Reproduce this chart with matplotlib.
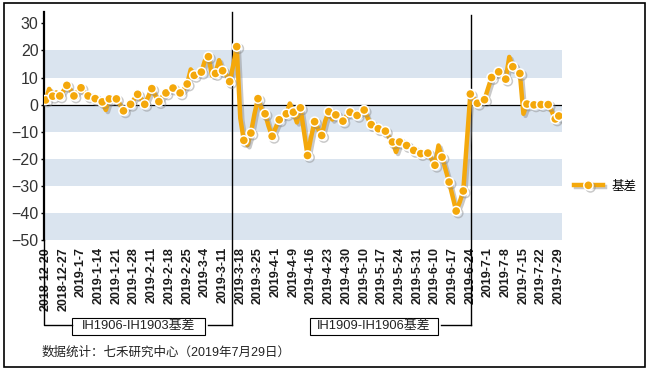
import matplotlib
matplotlib.use("Agg")
import matplotlib.pyplot as plt
import matplotlib.patheffects as pe
from matplotlib.patches import Rectangle

plt.rcParams['font.family'] = ['Liberation Sans', 'Noto Sans CJK SC']

# weekly tick labels (every 5 trading days)
tick_dates = ['2018-12-20', '2018-12-27', '2019-1-7', '2019-1-14', '2019-1-21', '2019-1-28',
              '2019-2-11', '2019-2-18', '2019-2-25', '2019-3-4', '2019-3-11', '2019-3-18',
              '2019-3-25', '2019-4-1', '2019-4-9', '2019-4-16', '2019-4-23', '2019-4-30',
              '2019-5-10', '2019-5-17', '2019-5-24', '2019-5-31', '2019-6-10', '2019-6-17',
              '2019-6-24', '2019-7-1', '2019-7-8', '2019-7-15', '2019-7-22', '2019-7-29']

# daily basis values
basis = [1.7, 5.8, 3.1, 4.5, 3.2, 5.0, 7.1, 5.5, 3.2, 4.8,
         6.2, 4.5, 3.2, 2.6, 2.2, 1.7, 1.0, -2.0, 2.1, 2.3,
         2.1, 0.0, -2.3, -1.0, 0.1, 2.0, 3.8, 2.0, 0.1, 3.0,
         5.9, 3.4, 1.1, 3.0, 4.3, 5.4, 6.1, 5.0, 4.3, 5.5,
         7.6, 13.0, 10.8, 11.2, 12.0, 16.2, 17.7, 10.7, 11.5, 16.4,
         12.5, 11.0, 8.5, 14.5, 21.4, -5.0, -13.2, -15.0, -10.5, -3.5,
         2.2, -1.5, -3.4, -8.0, -11.7, -8.5, -5.6, -4.5, -3.4, 0.4,
         -2.8, -6.6, -1.2, -10.0, -18.8, -12.0, -6.3, -9.0, -11.4, -6.0,
         -2.6, -5.5, -3.8, -4.8, -6.1, -4.2, -2.8, -3.5, -4.0, -3.0,
         -2.0, -5.0, -7.4, -8.2, -8.9, -9.4, -9.8, -12.0, -13.8, -17.5,
         -13.8, -14.5, -15.1, -16.0, -16.9, -17.5, -18.1, -18.0, -17.9, -20.0,
         -22.4, -15.1, -19.4, -24.0, -28.6, -34.0, -39.3, -36.0, -31.9, -14.0,
         3.9, 2.2, 0.5, 1.0, 1.8, 6.0, 10.0, 11.0, 12.1, 10.7,
         9.4, 17.6, 14.0, 12.8, 11.5, -3.4, 0.2, 0.0, -0.1, 0.0,
         0.0, 0.0, 0.0, -2.5, -5.3, -4.2]

y_ticks = [-50, -40, -30, -20, -10, 0, 10, 20, 30]
bands = [(-50, -40), (-30, -20), (-10, 0), (10, 20)]
contracts = ['IH1906-IH1903基差', 'IH1909-IH1906基差']
series_name = '基差'
source_note = '数据统计：七禾研究中心（2019年7月29日）'

# layout (data units on the x axis)
roll_x = [52.8, 120.2]
box_spans = [(7.4, 45.0), (74.7, 110.8)]

W, H = 649, 371
fig = plt.figure(figsize=(W / 100, H / 100), dpi=100)
ax = fig.add_axes([43.5 / W, 1 - 240 / H, (562 - 43.5) / W, (240 - 11.7) / H])

n = len(basis)
orange = '#F4A80B'
ax.plot(range(n), basis, color=orange, lw=3.2, marker='o', ms=6.6,
        mfc=orange, mec='white', mew=1.1, markevery=list(range(0, n, 2)) + [n - 1],
        label=series_name, solid_joinstyle='round',
        path_effects=[pe.SimpleLineShadow(offset=(1.5, -1.5), shadow_color='#888888', alpha=0.45),
                      pe.Normal()], zorder=3)

for lo, hi in bands:
    ax.axhspan(lo, hi, color='#DAE4EF', lw=0, zorder=0)
ax.axhline(0, color='black', lw=0.9, zorder=1)

ytop = 34.3
ax.set_xlim(-0.6, 145.9)
ax.set_ylim(-50, ytop)
ax.set_yticks(y_ticks)
ax.tick_params(axis='y', labelsize=11.5, labelcolor='#333333', length=2, width=1, pad=1.5)
ax.set_xticks(range(0, n, 5))
ax.set_xticklabels(tick_dates, rotation=90, fontsize=9, fontweight='bold', color='#1a1a1a')
ax.tick_params(axis='x', length=0, pad=5)
for s in ['top', 'right', 'bottom']:
    ax.spines[s].set_visible(False)
ax.spines['left'].set_linewidth(1.6)

# contract brackets below the axis
br_y = -81.5
box_lo, box_hi = -85.0, -78.8
for name, xv, (x0, x1), top in zip(contracts, roll_x, box_spans, [ytop, 33.0]):
    ax.plot([xv, xv], [top, br_y], color='black', lw=1, clip_on=False)
    ax.plot([x1 + 0.9, xv], [br_y, br_y], color='black', lw=1, clip_on=False)
    ax.add_patch(Rectangle((x0, box_lo), x1 - x0, box_hi - box_lo, fill=False,
                           ec='black', lw=0.8, clip_on=False))
    ax.text((x0 + x1) / 2, (box_lo + box_hi) / 2, name, ha='center', va='center',
            fontsize=9.3, color='#222222', clip_on=False)
# left leg of first bracket
ax.plot([-0.45, -0.45, box_spans[0][0]], [-50, br_y, br_y], color='black', lw=1, clip_on=False)

ax.legend(loc='center left', bbox_to_anchor=(574 / W, 1 - 186.7 / H), bbox_transform=fig.transFigure,
          frameon=False, fontsize=9, handlelength=2.3, handletextpad=0.7, borderpad=0,
          borderaxespad=0)

fig.text(41.7 / W, 1 - 353 / H, source_note, fontsize=9, va='center', ha='left', color='#222222')

fig.patches.append(Rectangle((4 / W, 1 - 367.3 / H), 641 / W, 364.6 / H, transform=fig.transFigure,
                             fill=False, ec='black', lw=1.2))

fig.savefig('out.png', dpi=100)
